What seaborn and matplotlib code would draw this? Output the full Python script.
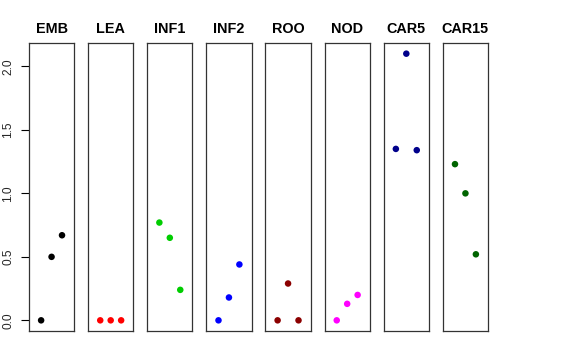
import numpy as np
import pandas as pd
import matplotlib
matplotlib.use("Agg")
import matplotlib.pyplot as plt
import seaborn as sns

tissues = ["EMB", "LEA", "INF1", "INF2", "ROO", "NOD", "CAR5", "CAR15"]
colors = ["#000000", "#FF0000", "#00CD00", "#0000FF", "#8B0000", "#FF00FF", "#00008B", "#006400"]
emb = [0.0, 0.50, 0.67]
lea = [0.0, 0.0, 0.0]
inf1 = [0.77, 0.65, 0.24]
inf2 = [0.0, 0.18, 0.44]
roo = [0.0, 0.29, 0.0]
nod = [0.0, 0.13, 0.20]
car5 = [1.35, 2.10, 1.34]
car15 = [1.23, 1.00, 0.52]
values = [emb, lea, inf1, inf2, roo, nod, car5, car15]
yticks = [0.0, 0.5, 1.0, 1.5, 2.0]
ytick_labels = ["0.0", "0.5", "1.0", "1.5", "2.0"]

sns.set_theme(style="white")
plt.rcParams["font.family"] = ["Liberation Sans", "DejaVu Sans"]

rows = []
for t, v in zip(tissues, values):
    for i, val in enumerate(v):
        rows.append({"tissue": t, "rep": i + 1, "value": val})
df = pd.DataFrame(rows)

fig, axes = plt.subplots(1, 8, figsize=(5.76, 3.6), dpi=100, sharey=True)
fig.subplots_adjust(left=29/576, right=488/576, top=1-43/360, bottom=1-331/360, wspace=0.31)

ymax = max(max(v) for v in values)
ylo, yhi = -0.04 * ymax, ymax * 1.04
for ax, t, c in zip(axes, tissues, colors):
    sub = df[df["tissue"] == t]
    sns.scatterplot(data=sub, x="rep", y="value", ax=ax, color=c, s=22,
                    edgecolor="none", linewidth=0)
    ax.set_xlim(1 - 1.16, 3 + 1.16)
    ax.set_ylim(ylo, yhi)
    ax.set_xticks([])
    ax.set_xlabel("")
    ax.set_ylabel("")
    ax.set_title(t, fontsize=10.4, fontweight="bold", pad=7, color="black")
    for sp in ax.spines.values():
        sp.set_visible(True)
        sp.set_color("#333333")
        sp.set_linewidth(0.9)
    ax.tick_params(axis="y", left=False, labelleft=False)

ax0 = axes[0]
ax0.set_yticks(yticks)
ax0.set_yticklabels(ytick_labels, rotation=90, va="center", fontsize=8.6)
ax0.tick_params(axis="y", left=True, labelleft=True, length=5.5, width=0.8,
                color="black", pad=5, direction="out")

fig.savefig("out.png", dpi=100, facecolor="white")
